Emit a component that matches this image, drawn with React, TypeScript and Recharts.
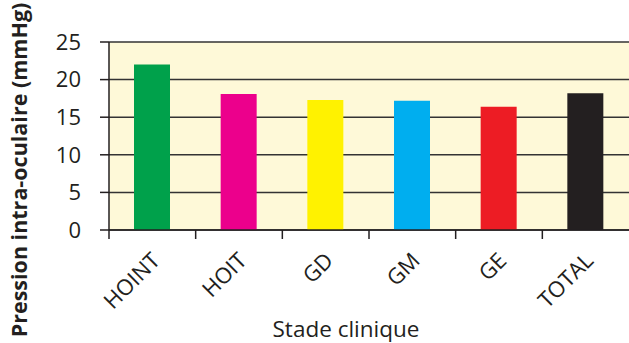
import { BarChart, Bar, XAxis, YAxis, CartesianGrid, Cell } from "recharts";

const stades = ["HOINT", "HOIT", "GD", "GM", "GE", "TOTAL"];
const pressions = [22, 18.1, 17.3, 17.2, 16.4, 18.2];
const couleurs = ["#00a14b", "#ec008c", "#fff200", "#00aeef", "#ed1c24", "#231f20"];
const yTicks = [0, 5, 10, 15, 20, 25];

const data = stades.map((stade, i) => ({ stade, pression: pressions[i] }));

const FONT = "'Open Sans', 'DejaVu Sans', sans-serif";
const INK = "#231f20";

// label au centre de la catégorie + petit trait à la limite gauche de la bande
function StadeTick(props: any) {
  const { x, y, payload } = props;
  const half = payload?.offset ?? 0;
  const ax = x + 9;
  const ay = y + 24;
  return (
    <g>
      <line x1={x - half} y1={y - 8} x2={x - half} y2={y + 1} stroke={INK} strokeWidth={1.5} />
      <text
        x={ax}
        y={ay}
        textAnchor="end"
        fill={INK}
        fontSize={22}
        fontFamily={FONT}
        transform={`rotate(-45, ${ax}, ${ay})`}
      >
        {payload.value}
      </text>
    </g>
  );
}

export default function App() {
  return (
    <div style={{ position: "absolute", left: 0, top: 0, background: "#fff" }}>
      <BarChart
        width={629}
        height={343}
        data={data}
        margin={{ top: 42, right: 0, bottom: 0, left: 0 }}
        barCategoryGap={0}
      >
        <CartesianGrid
          vertical={false}
          fill="#fef9d8"
          stroke="#333"
          strokeWidth={1.5}
          fillOpacity={1}
        />
        <XAxis
          dataKey="stade"
          height={113}
          axisLine={{ stroke: INK, strokeWidth: 1.5 }}
          tickLine={false}
          interval={0}
          tick={<StadeTick />}
          label={{
            content: () => (
              <text x={346} y={337} textAnchor="middle" fill={INK} fontSize={22.5} fontFamily={FONT}>
                Stade clinique
              </text>
            ),
          }}
        />
        <YAxis
          width={109}
          domain={[0, 25]}
          ticks={yTicks}
          tickSize={9}
          tickMargin={19}
          axisLine={{ stroke: INK, strokeWidth: 1.5 }}
          tickLine={{ stroke: INK, strokeWidth: 1.5 }}
          tick={{ fill: INK, fontSize: 22, fontFamily: FONT }}
          label={{
            content: () => (
              <text
                x={27}
                y={170}
                textAnchor="middle"
                fill={INK}
                fontSize={21.5}
                fontWeight="bold"
                fontFamily={FONT}
                transform="rotate(-90, 27, 170)"
              >
                Pression intra-oculaire (mmHg)
              </text>
            ),
          }}
        />
        <Bar dataKey="pression" barSize={36} isAnimationActive={false}>
          {data.map((d, i) => (
            <Cell key={d.stade} fill={couleurs[i]} />
          ))}
        </Bar>
      </BarChart>
    </div>
  );
}
